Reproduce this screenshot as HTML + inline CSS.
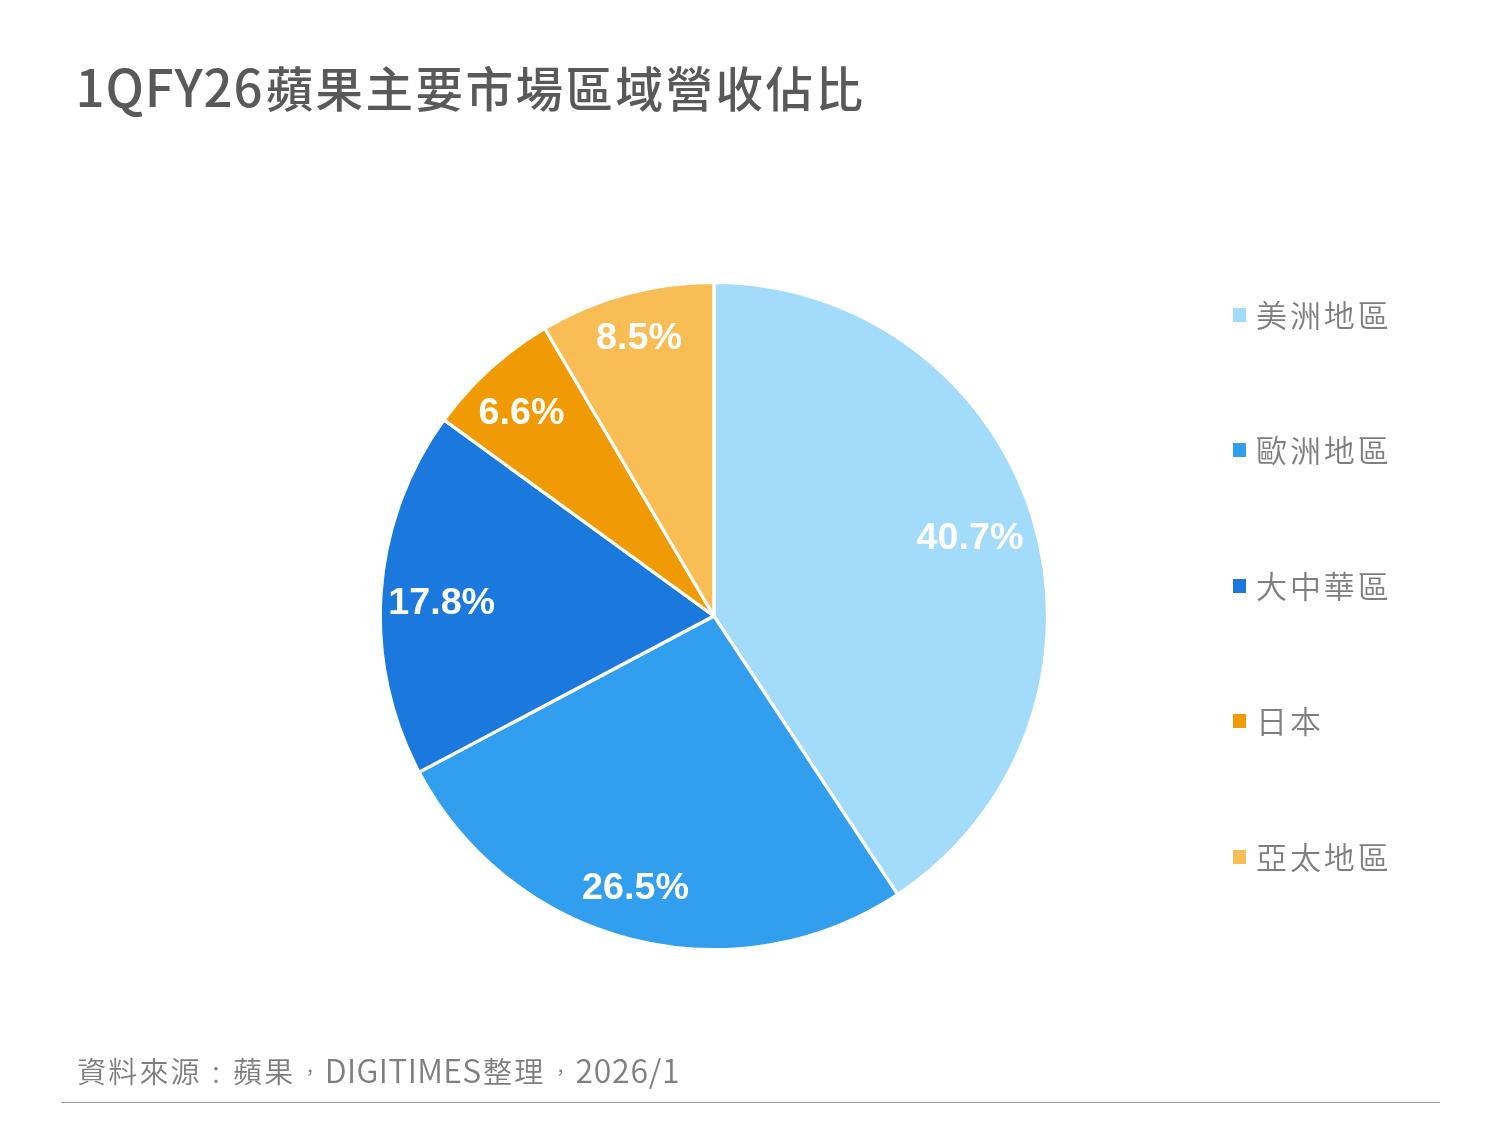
<!DOCTYPE html>
<html lang="zh-Hant-TW">
<head>
<meta charset="utf-8">
<title>1QFY26蘋果主要市場區域營收佔比</title>
<style>
  html, body { margin: 0; padding: 0; background: #fff; }
  body { width: 1500px; height: 1125px; position: relative; overflow: hidden;
         font-family: "Liberation Sans", "Noto Sans CJK TC", sans-serif; }
  .title { position: absolute; left: 75.5px; top: 48.8px; margin: 0; font-size: 47.5px; line-height: 72px;
           font-weight: 500; color: #595959; white-space: nowrap; letter-spacing: 2.5px;
           font-family: "Noto Sans CJK TC", "Liberation Sans", sans-serif; }
  .title .lat { font-size: 51px; letter-spacing: 0.9px; margin-right: 2.2px; }
  .chart { position: absolute; left: 0; top: 0; width: 1500px; height: 1125px; }
  .chart path { stroke: #fff; stroke-width: 3.2; stroke-linejoin: round; }
  .chart text { font-family: "Liberation Sans", sans-serif; font-weight: 700; font-size: 37.7px;
                fill: #fff; text-anchor: middle; }
  .lg { position: absolute; left: 1233px; height: 60px; line-height: 60px; white-space: nowrap;
        font-family: "Noto Sans CJK TC", "Liberation Sans", sans-serif; font-weight: 350;
        font-size: 31px; letter-spacing: 2.9px; color: #7f7f7f; }
  .lg i { position: absolute; left: 0; top: 24.1px; width: 13px; height: 13.9px; }
  .lg span { position: absolute; left: 23px; top: 0; }
  .src { position: absolute; left: 77px; top: 1046.9px; margin: 0; font-size: 29px; line-height: 44px;
         font-weight: 350; color: #7f7f7f; white-space: nowrap; letter-spacing: 2.2px;
         font-family: "Noto Sans CJK TC", "Liberation Sans", sans-serif; }
  .src .lat { font-size: 32px; letter-spacing: 0.35px; margin-right: 1.35px; }
  .src .num { letter-spacing: 0.75px; margin-right: 0; }
  .src .cm { display: inline-block; width: 31.2px; letter-spacing: 0; text-align: center; font-size: 19px; position: relative; top: -3px; }
  .src .cl { display: inline-block; width: 31.2px; letter-spacing: 0; text-align: center; font-size: 23.5px; position: relative; top: 1px; left: -1.5px; }
  .src .c1 { width: 29.4px; }
  .src .c2 { width: 30.1px; }
  .rule { position: absolute; left: 61px; top: 1102px; width: 1379px; height: 1px; background: #9F9F9F; }
</style>
</head>
<body>
  <h1 class="title"><span class="lat">1QFY26</span>蘋果主要市場區域營收佔比</h1>
  <svg class="chart" viewBox="0 0 1500 1125" width="1500" height="1125">
    <path d="M713.90 616.00L713.90 282.40A333.6 333.6 0 0 1 897.59 894.47Z" fill="#A3DBFB"/>
    <path d="M713.90 616.00L897.59 894.47A333.6 333.6 0 0 1 419.13 772.20Z" fill="#319EEE"/>
    <path d="M713.90 616.00L419.13 772.20A333.6 333.6 0 0 1 444.01 419.91Z" fill="#1B78DC"/>
    <path d="M713.90 616.00L444.01 419.91A333.6 333.6 0 0 1 544.79 328.44Z" fill="#F09A05"/>
    <path d="M713.90 616.00L544.79 328.44A333.6 333.6 0 0 1 713.90 282.40Z" fill="#F9BD55"/>
    <text x="970" y="548.6">40.7%</text>
    <text x="635.5" y="898.7">26.5%</text>
    <text x="441.7" y="614.4">17.8%</text>
    <text x="521.5" y="423.6">6.6%</text>
    <text x="639" y="348.7">8.5%</text>
  </svg>
  <div class="lg" style="top:283.9px"><i style="background:#A3DBFB"></i><span>美洲地區</span></div>
  <div class="lg" style="top:419.4px"><i style="background:#319EEE"></i><span>歐洲地區</span></div>
  <div class="lg" style="top:554.9px"><i style="background:#1B78DC"></i><span>大中華區</span></div>
  <div class="lg" style="top:690.4px"><i style="background:#F09A05"></i><span>日本</span></div>
  <div class="lg" style="top:825.9px"><i style="background:#F9BD55"></i><span>亞太地區</span></div>
  <p class="src">資料來源<span class="cl">：</span>蘋果<span class="cm c1">，</span><span class="lat">DIGITIMES</span>整理<span class="cm c2">，</span><span class="lat num">2026/1</span></p>
  <div class="rule"></div>
</body>
</html>
